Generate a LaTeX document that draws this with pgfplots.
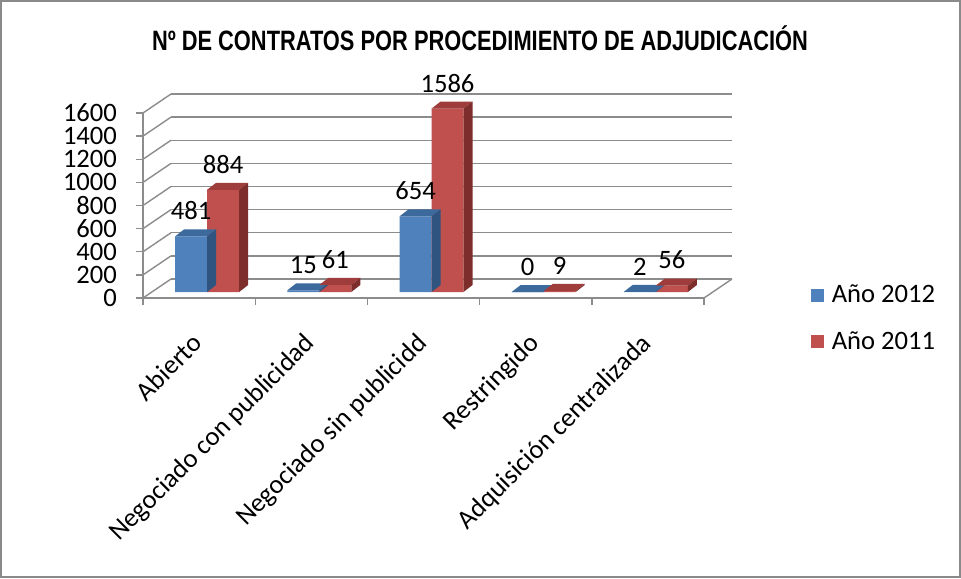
\documentclass[border=0pt]{standalone}
\usepackage{pgfplots}
\pgfplotsset{compat=1.18}
\usepackage{fontspec}
\setmainfont{Carlito}
\newfontfamily\titlefont{Liberation Sans}[FakeStretch=0.78]
\definecolor{bluefront}{HTML}{4F81BD}
\definecolor{bluetop}{HTML}{3D6A9C}
\definecolor{blueside}{HTML}{2F5480}
\definecolor{redfront}{HTML}{C0504D}
\definecolor{redtop}{HTML}{9E3D3B}
\definecolor{redside}{HTML}{7D2E2C}
\definecolor{gridgray}{HTML}{8C8C8C}
\definecolor{framegray}{HTML}{8A8A8A}

% 3D top and side faces of a bar; \myH is the raw value of the bar
\newcommand\barthreed[2]{%
  \pgfmathsetmacro\hh{\myH*0.0578125}%
  \pgfsetfillcolor{#1}%
  \pgfpathmoveto{\pgfpoint{-8pt}{0pt}}%
  \pgfpathlineto{\pgfpoint{8pt}{0pt}}%
  \pgfpathlineto{\pgfpoint{12.5pt}{3.5pt}}%
  \pgfpathlineto{\pgfpoint{-3.5pt}{3.5pt}}%
  \pgfpathclose
  \pgfusepath{fill}%
  \pgfsetfillcolor{#2}%
  \pgfpathmoveto{\pgfpoint{8pt}{0pt}}%
  \pgfpathlineto{\pgfpoint{12.5pt}{3.5pt}}%
  \pgfpathlineto{\pgfpoint{12.5pt}{3.5pt-\hh pt}}%
  \pgfpathlineto{\pgfpoint{8pt}{-\hh pt}}%
  \pgfpathclose
  \pgfusepath{fill}%
}
\pgfdeclareplotmark{bluebar3d}{\barthreed{bluetop}{blueside}}
\pgfdeclareplotmark{redbar3d}{\barthreed{redtop}{redside}}

\begin{document}
\begin{tikzpicture}
\fill[white] (0,0) rectangle (480.5pt,289pt);
\useasboundingbox (0,0) rectangle (480.5pt,289pt);
\draw[framegray, line width=1.2pt] (0.6pt,0.6pt) rectangle (479.9pt,288.4pt);
\node[font=\titlefont\bfseries\fontsize{14}{16}\selectfont] at (240pt,270pt)
  {Nº DE CONTRATOS POR PROCEDIMIENTO DE ADJUDICACIÓN};
\begin{axis}[
  at={(71.5pt,140pt)}, anchor=south west,
  scale only axis, width=280.5pt, height=92.5pt,
  xmin=0.5, xmax=5.5, ymin=0, ymax=1600,
  clip=false,
  axis x line*=bottom, axis y line*=left,
  axis line style={draw=gridgray, line width=0.7pt, -},
  tick align=outside,
  major tick length=3.5pt, minor tick length=3.5pt,
  ytick={0,200,...,1600},
  y tick style={draw=gridgray, line width=0.7pt},
  xtick={1,...,5},
  xticklabels={Abierto,Negociado con publicidad,Negociado sin publicidd,Restringido,Adquisición centralizada},
  major x tick style={draw=none},
  minor xtick={0.5,1.5,...,5.5},
  minor x tick style={draw=gridgray, line width=0.7pt},
  ymajorgrids,
  major y grid style={draw=gridgray, line width=0.7pt, xshift=14pt, yshift=9.5pt},
  /pgf/number format/assume math mode=true,
  /pgf/number format/1000 sep={},
  tick label style={font=\fontsize{13.3}{14}\selectfont, text=black},
  yticklabel style={xshift=-6pt},
  xticklabel style={rotate=45, anchor=north east, xshift=-9pt, yshift=-3pt},
  legend style={at={(1.19,-0.11)}, anchor=west, draw=none, fill=none,
    font=\fontsize{13.3}{14}\selectfont, row sep=9pt, inner sep=0pt,
    nodes={inner xsep=4pt}},
  legend cell align=left,
]
\pgfplotsinvokeforeach{0,200,...,1600}{%
  \draw[gridgray, line width=0.7pt] (axis cs:0.5,#1) -- ++(14pt,9.5pt);}
\draw[gridgray, line width=0.7pt] (axis cs:5.5,0) -- ++(14pt,9.5pt);

% Año 2012
\addplot[ybar, bar width=16pt, bar shift=0pt, fill=bluefront, draw=none,
  xshift=-4pt, yshift=3pt, forget plot]
  coordinates {(1,481) (2,15) (3,654) (4,0) (5,2)};
\addplot[only marks, mark=bluebar3d, forget plot, xshift=-4pt, yshift=3pt,
  visualization depends on=rawy\as\myH,
  nodes near coords,
  every node near coord/.append style={anchor=south, yshift=8pt, inner sep=0pt,
    font=\fontsize{13.3}{14}\selectfont, text=black}]
  coordinates {(1,481) (2,15) (3,654) (4,0) (5,2)};
% Año 2011
\addplot[ybar, bar width=16pt, bar shift=0pt, fill=redfront, draw=none,
  xshift=12pt, yshift=3pt, forget plot]
  coordinates {(1,884) (2,61) (3,1586) (4,9) (5,56)};
\addplot[only marks, mark=redbar3d, forget plot, xshift=12pt, yshift=3pt,
  visualization depends on=rawy\as\myH,
  nodes near coords,
  every node near coord/.append style={anchor=south, yshift=8pt, inner sep=0pt,
    font=\fontsize{13.3}{14}\selectfont, text=black}]
  coordinates {(1,884) (2,61) (3,1586) (4,9) (5,56)};

\addlegendimage{legend image code/.code={\fill[bluefront] (0pt,-3pt) rectangle (6pt,3pt);}}
\addlegendentry{Año 2012}
\addlegendimage{legend image code/.code={\fill[redfront] (0pt,-3pt) rectangle (6pt,3pt);}}
\addlegendentry{Año 2011}
\end{axis}
\end{tikzpicture}
\end{document}
